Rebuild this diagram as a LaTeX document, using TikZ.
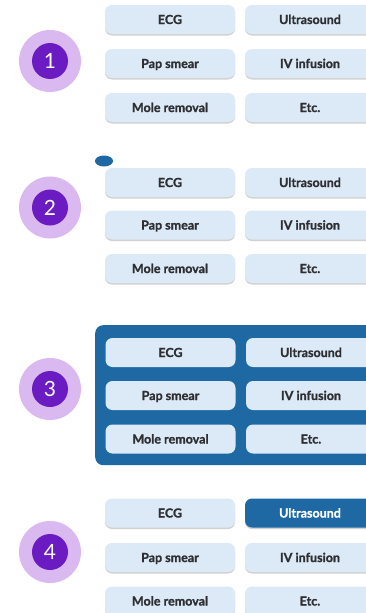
\documentclass[tikz,border=0pt]{standalone}
\usepackage{fontspec}
\setmainfont{Lato}
\newfontfamily\itemfont[BoldFeatures={FakeBold=1.2}]{Lato}
\usetikzlibrary{shapes.geometric}
\definecolor{boxfill}{HTML}{DCEAF7}
\definecolor{panelblue}{HTML}{1E69A4}
\definecolor{lilac}{HTML}{D9B9EF}
\definecolor{violet}{HTML}{6A1CC2}
\definecolor{txt}{HTML}{2F2F33}
\begin{document}
\begin{tikzpicture}[x=1pt,y=-1pt,
  item/.style={rectangle, rounded corners=7pt, fill=boxfill, minimum width=130pt, minimum height=29pt, inner sep=0pt, text height=9pt, text depth=0pt, text=txt, font=\itemfont\fontsize{12.5}{14}\selectfont\bfseries},
  shadowbox/.style={rectangle, rounded corners=7pt, fill=black!18, minimum width=130pt, minimum height=29pt, inner sep=0pt},
  hiitem/.style={item, fill=panelblue, text=white},
  outerdisc/.style={circle, fill=lilac, minimum size=62pt, inner sep=0pt},
  innerdisc/.style={circle, fill=violet, minimum size=36pt, inner sep=0pt, text=white, font=\fontsize{21}{22}\selectfont},
]
\useasboundingbox (0,0) rectangle (365,613);
\fill[white] (0,0) rectangle (365,613);
% panel of group 3
\node[rectangle, rounded corners=8pt, fill=panelblue, minimum width=290pt, minimum height=140pt, anchor=north west, inner sep=0pt] (panel) at (95,325) {};
% small dot of group 2
\node[ellipse, fill=panelblue, minimum width=18pt, minimum height=11pt, inner sep=0pt] (dot) at (104,161) {};
% groups
\foreach \g/\cy/\ya/\yb/\yc/\xa/\xb in {1/61/19.5/63.5/107.5/170/310, 2/207.5/182.5/225/268.5/170/310, 3/389/352.5/395.5/439/170.5/311, 4/552/513/557.5/601/170/310}{
  \node[outerdisc] (o\g) at (50,\cy) {};
  \node[innerdisc] (n\g) at (o\g.center) {\g};
  \ifnum\g=3\else
    \node[shadowbox] (sa\g) at (\xa,\ya+1.5) {};
    \node[shadowbox] (sb\g) at (\xb,\ya+1.5) {};
    \node[shadowbox] (sc\g) at (\xa,\yb+1.5) {};
    \node[shadowbox] (sd\g) at (\xb,\yb+1.5) {};
    \node[shadowbox] (se\g) at (\xa,\yc+1.5) {};
    \node[shadowbox] (sf\g) at (\xb,\yc+1.5) {};
  \fi
  \node[item] (ecg\g) at (\xa,\ya) {ECG};
  \ifnum\g=4
    \node[hiitem] (us\g) at (\xb,\ya) {Ultrasound};
  \else
    \node[item] (us\g) at (\xb,\ya) {Ultrasound};
  \fi
  \node[item] (pap\g) at (\xa,\yb) {Pap smear};
  \node[item] (iv\g) at (\xb,\yb) {IV infusion};
  \node[item] (mole\g) at (\xa,\yc) {Mole removal};
  \node[item] (etc\g) at (\xb,\yc) {Etc.};
}
\end{tikzpicture}
\end{document}
